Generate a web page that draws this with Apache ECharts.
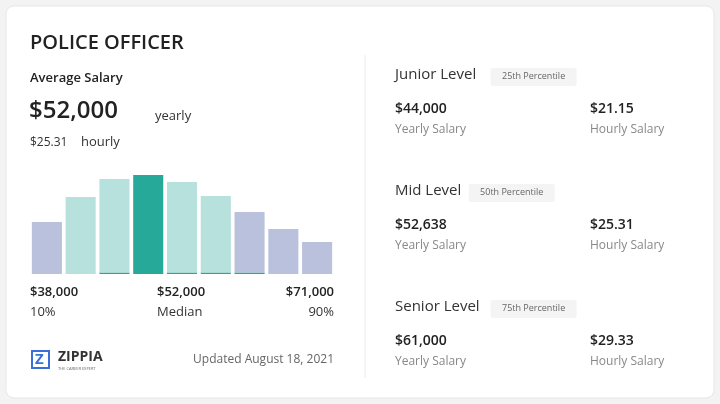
<!DOCTYPE html>
<html><head><meta charset="utf-8">
<script src="https://cdn.jsdelivr.net/npm/echarts@6/dist/echarts.min.js"></script>
<style>html,body{margin:0;background:#f3f3f3}#c{width:720px;height:404px}</style>
</head><body><div id="c"></div>
<script>
const bins = ['b1','b2','b3','b4','b5','b6','b7','b8','b9'];
const heights = [52, 77, 95, 99, 92, 78, 62, 45, 32];
const barColors = ['#b9c1dc','#b6e1dd','#b6e1dd','#27a999','#b6e1dd','#b6e1dd','#b9c1dc','#b9c1dc','#b9c1dc'];
const underline = [0,0,1.5,0,1.5,1.5,1.5,0,0];
const levels = [
  {name:'Junior Level', pct:'25th Percentile', yearly:'$44,000', hourly:'$21.15'},
  {name:'Mid Level', pct:'50th Percentile', yearly:'$52,638', hourly:'$25.31'},
  {name:'Senior Level', pct:'75th Percentile', yearly:'$61,000', hourly:'$29.33'}
];
const F = '"Open Sans", sans-serif';
const chart = echarts.init(document.getElementById('c'));
const g = [
  {type:'rect', shape:{x:6,y:6,width:708,height:392,r:8}, style:{fill:'#fff',stroke:'#e6e6e6'}},
  {type:'line', shape:{x1:365,y1:55,x2:365,y2:378}, style:{stroke:'#ececec',lineWidth:1}},
  {type:'text', x:30, y:33, style:{text:'POLICE OFFICER', font:'600 20px '+F, fill:'#222'}},
  {type:'text', x:30, y:72, style:{text:'Average Salary', font:'600 13px '+F, fill:'#222'}},
  {type:'text', x:29, y:99, style:{text:'$52,000', font:'600 24px '+F, fill:'#222'}},
  {type:'text', x:155, y:110, style:{text:'yearly', font:'13px '+F, fill:'#333'}},
  {type:'text', x:30, y:137, style:{text:'$25.31', font:'12px '+F, fill:'#333'}},
  {type:'text', x:81, y:136, style:{text:'hourly', font:'13px '+F, fill:'#333'}},
  {type:'text', x:30, y:286, style:{text:'$38,000', font:'600 13px '+F, fill:'#222'}},
  {type:'text', x:30, y:306, style:{text:'10%', font:'13px '+F, fill:'#333'}},
  {type:'text', x:157, y:286, style:{text:'$52,000', font:'600 13px '+F, fill:'#222'}},
  {type:'text', x:157, y:306, style:{text:'Median', font:'13px '+F, fill:'#333'}},
  {type:'text', x:334, y:286, style:{text:'$71,000', font:'600 13px '+F, fill:'#222', align:'right'}},
  {type:'text', x:334, y:306, style:{text:'90%', font:'13px '+F, fill:'#333', align:'right'}},
  {type:'rect', shape:{x:32,y:351,width:17,height:17}, style:{fill:'#fff',stroke:'#3a6fd8',lineWidth:2}},
  {type:'text', x:35, y:352, style:{text:'Z', font:'bold 15px '+F, fill:'#3a6fd8'}},
  {type:'text', x:58, y:350, style:{text:'ZIPPIA', font:'bold 14px '+F, fill:'#333'}},
  {type:'text', x:58, y:367, style:{text:'THE CAREER EXPERT', font:'4px '+F, fill:'#666'}},
  {type:'text', x:334, y:354, style:{text:'Updated August 18, 2021', font:'12px '+F, fill:'#666', align:'right'}}
];
levels.forEach((l,i)=>{
  const y0 = 67 + i*116;
  const w = l.name.length*7.3;
  g.push({type:'text', x:395, y:y0, style:{text:l.name, font:'15px '+F, fill:'#333'}});
  g.push({type:'rect', shape:{x:395+w+8,y:y0+1,width:86,height:18,r:2}, style:{fill:'#f4f4f4'}});
  g.push({type:'text', x:395+w+51, y:y0+5, style:{text:l.pct, font:'9px '+F, fill:'#666', align:'center'}});
  g.push({type:'text', x:395, y:y0+35, style:{text:l.yearly, font:'600 14px '+F, fill:'#222'}});
  g.push({type:'text', x:395, y:y0+57, style:{text:'Yearly Salary', font:'12px '+F, fill:'#888'}});
  g.push({type:'text', x:590, y:y0+35, style:{text:l.hourly, font:'600 14px '+F, fill:'#222'}});
  g.push({type:'text', x:590, y:y0+57, style:{text:'Hourly Salary', font:'12px '+F, fill:'#888'}});
});
chart.setOption({
  animation:false,
  grid:{left:30, right:386, top:174, bottom:130},
  xAxis:{type:'category', data:bins, show:false},
  yAxis:{type:'value', min:0, max:100, show:false},
  series:[
    {type:'bar', stack:'s', barCategoryGap:'11%', data:underline, itemStyle:{color:'#27a999'}},
    {type:'bar', stack:'s', barCategoryGap:'11%', data:heights.map((h,i)=>({value:h-underline[i], itemStyle:{color:barColors[i]}}))}
  ],
  graphic:g
});
</script></body></html>
